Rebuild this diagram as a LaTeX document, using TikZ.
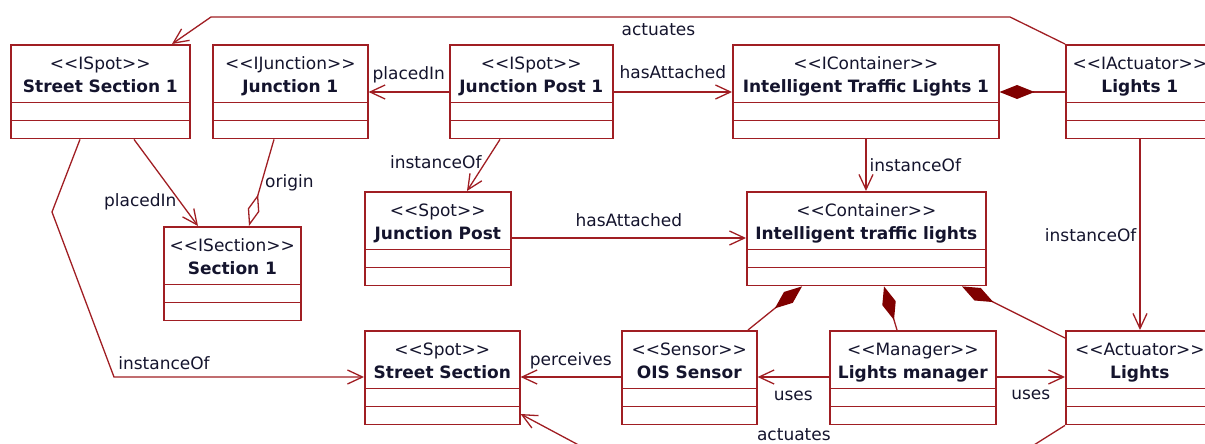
\documentclass[tikz,border=0pt]{standalone}
\usepackage{fontspec}
\setmainfont{DejaVu Sans}
\usetikzlibrary{positioning,shapes.multipart,arrows.meta,calc}
\definecolor{umlred}{RGB}{160,30,35}
\definecolor{umldark}{RGB}{128,0,0}
\definecolor{umltext}{RGB}{20,20,45}
\newcommand{\cmp}{\rule{0pt}{16.5pt}}
\newcommand{\umlhead}[2]{\rule{0pt}{24pt}{<}{<}#1{>}{>}\\\textbf{#2}\rule[-9pt]{0pt}{9pt}}

\begin{document}
\begin{tikzpicture}[x=1pt,y=-1pt]

	\tikzstyle{klass} = [rectangle split, rectangle split parts=3, draw=umlred, line width=1.6pt, fill=white, anchor=north west, inner xsep=0pt, inner ysep=0pt, align=center, text=umltext, font=\fontsize{17}{23}\selectfont]
	\tikzstyle{rel} = [text=umltext, font=\fontsize{17}{20}\selectfont, inner sep=3pt]
	\tikzstyle{link} = [draw=umlred, line width=1.3pt]
	\tikzstyle{nav} = [link, -{Straight Barb[length=15pt,width=14pt]}]
	\tikzstyle{compo} = [link, {Diamond[length=35pt,width=14pt,color=umldark]}-]
	\tikzstyle{aggr} = [link, -{Diamond[open,length=33pt,width=12pt]}]

	\useasboundingbox (0,0) rectangle (1205,444);
	\clip (0,0) rectangle (1205,444);

	% upper row
	\node[klass, text width=179pt] (ss1) at (10,44) {\umlhead{ISpot}{Street Section 1}\nodepart{two}\cmp\nodepart{three}\cmp};
	\node[klass, text width=155pt] (j1) at (212,44) {\umlhead{IJunction}{Junction 1}\nodepart{two}\cmp\nodepart{three}\cmp};
	\node[klass, text width=163pt] (jp1) at (449,44) {\umlhead{ISpot}{Junction Post 1}\nodepart{two}\cmp\nodepart{three}\cmp};
	\node[klass, text width=266pt] (itl1) at (732,44) {\umlhead{IContainer}{Intelligent Traffic Lights 1}\nodepart{two}\cmp\nodepart{three}\cmp};
	\node[klass, text width=148pt] (l1) at (1065,44) {\umlhead{IActuator}{Lights 1}\nodepart{two}\cmp\nodepart{three}\cmp};

	% middle row
	\node[klass, text width=137pt] (s1) at (163,226) {\umlhead{ISection}{Section 1}\nodepart{two}\cmp\nodepart{three}\cmp};
	\node[klass, text width=146pt] (jp) at (364,191) {\umlhead{Spot}{Junction Post}\nodepart{two}\cmp\nodepart{three}\cmp};
	\node[klass, text width=239pt] (itl) at (746,191) {\umlhead{Container}{Intelligent traffic lights}\nodepart{two}\cmp\nodepart{three}\cmp};

	% lower row
	\node[klass, text width=155pt] (ss) at (364,330) {\umlhead{Spot}{Street Section}\nodepart{two}\cmp\nodepart{three}\cmp};
	\node[klass, text width=135pt] (ois) at (621,330) {\umlhead{Sensor}{OIS Sensor}\nodepart{two}\cmp\nodepart{three}\cmp};
	\node[klass, text width=166pt] (lm) at (829,330) {\umlhead{Manager}{Lights manager}\nodepart{two}\cmp\nodepart{three}\cmp};
	\node[klass, text width=148pt] (li) at (1065,330) {\umlhead{Actuator}{Lights}\nodepart{two}\cmp\nodepart{three}\cmp};

	% bends
	\coordinate (t1) at (1010,17);
	\coordinate (t2) at (211,17);
	\coordinate (k1) at (52,212);
	\coordinate (k2) at (114,377);
	\coordinate (b1) at (1026,450);
	\coordinate (b2) at (588,450);

	\draw[nav] (l1.north west) -- (t1) -- node[rel, below=3pt, pos=.44] {actuates} (t2) -- ([xshift=162pt]ss1.north west);
	\draw[nav] ([yshift=-48pt]jp1.north west) -- node[rel, above=5pt] {placedIn} ([yshift=-48pt]j1.north east);
	\draw[nav] ([yshift=-48pt]jp1.north east) -- node[rel, above=10pt] {hasAttached} ([yshift=-48pt]itl1.north west);
	\draw[compo] ([yshift=-48pt]itl1.north east) -- ([yshift=-48pt]l1.north west);
	\draw[nav] ([xshift=51pt]jp1.south west) -- node[rel, left, pos=.45] {instanceOf} ([xshift=103pt]jp.north west);
	\draw[nav] ([xshift=134pt]itl1.south west) -- node[rel, right] {instanceOf} ([xshift=120pt]itl.north west);
	\draw[nav] ([xshift=75pt]l1.south west) -- node[rel, left] {instanceOf} ([xshift=75pt]li.north west);
	\draw[nav] ([yshift=-47pt]jp.north east) -- node[rel, above=8pt] {hasAttached} ([yshift=-47pt]itl.north west);
	\draw[nav] ([xshift=124pt]ss1.south west) -- node[rel, left, pos=.72] {placedIn} ([xshift=35pt]s1.north west);
	\draw[aggr] ([xshift=62pt]j1.south west) -- node[rel, right, pos=.5] {origin} ([xshift=86pt]s1.north west);
	\draw[nav] ([xshift=70pt]ss1.south west) -- (k1) -- (k2) -- node[rel, above=4pt, pos=.2] {instanceOf} ([yshift=-47pt]ss.north west);
	\draw[nav] ([yshift=-47pt]ois.north west) -- node[rel, above=4pt] {perceives} ([yshift=-47pt]ss.north east);
	\draw[nav] ([yshift=-47pt]lm.north west) -- node[rel, below=10pt] {uses} ([yshift=-47pt]ois.north east);
	\draw[nav] ([yshift=-47pt]lm.north east) -- node[rel, below=9pt] {uses} ([yshift=-47pt]li.north west);
	\draw[compo] ([xshift=56pt]itl.south west) -- ([xshift=127pt]ois.north west);
	\draw[compo] ([xshift=138pt]itl.south west) -- ([xshift=68pt]lm.north west);
	\draw[compo] ([xshift=216pt]itl.south west) -- ([yshift=-8pt]li.north west);
	\draw[nav] (li.south west) -- (b1) -- node[rel, above, pos=.53, yshift=6pt] {actuates} (b2) -- ([yshift=-84pt]ss.north east);

\end{tikzpicture}
\end{document}
